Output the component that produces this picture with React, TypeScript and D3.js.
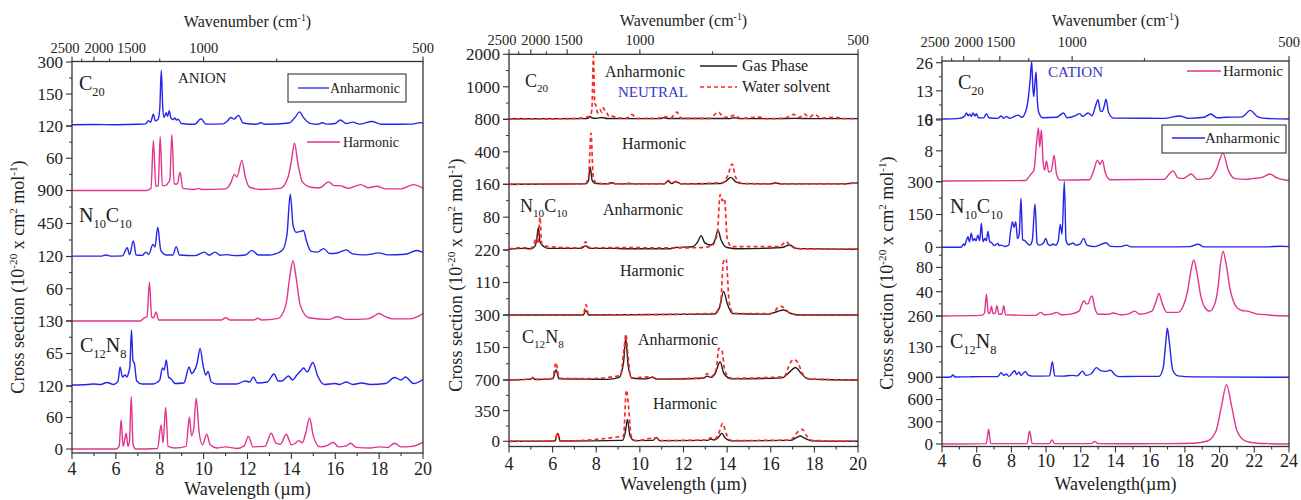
import React, { useEffect, useRef } from 'react';
import * as d3 from 'd3';

type Pt = [number, number];

const FONT = '"Liberation Serif", "Times New Roman", serif';
const BLUE = '#2424ec';
const PINK = '#e2348d';
const GAS = '#1e1e1e';
const WATER = '#ff2626';

// top axis (wavenumber, cm-1)
const wavenumbers = [2500, 2000, 1500, 1000, 500];
const wavenumbersMinor = [2250, 1750, 1250, 750];
// crowded labels at the short-wavelength end are pushed apart a little
const topLabelNudge = [-7, 5, 1, 0, 0];

// ---------------- ANION ----------------
const anionC20Anh: Pt[] = [[4,6],[5,7],[6,6],[7,8],[7.35,10],[7.48,25],[7.58,18],[7.71,55],[7.8,24],[7.92,30],[8.0,80],[8.07,262],[8.14,80],[8.2,40],[8.29,62],[8.36,45],[8.43,72],[8.52,35],[8.62,30],[8.68,38],[8.76,28],[8.84,32],[8.98,12],[9.6,8],[9.88,34],[10.1,9],[10.9,10],[11.1,25],[11.24,40],[11.38,32],[11.59,50],[11.8,14],[12.4,8],[12.6,15],[12.8,8],[13.9,14],[14.2,45],[14.37,66],[14.55,40],[14.85,12],[15.2,8],[15.4,15],[15.6,9],[16.0,12],[16.23,28],[16.5,12],[16.8,18],[17.1,9],[17.67,21],[18.1,8],[18.5,8],[19.5,9],[19.88,16],[20,13]];
const anionC20Harm: Pt[] = [[4,0],[7.4,0],[7.6,4],[7.71,93],[7.82,8],[7.93,10],[8.02,100],[8.12,9],[8.3,10],[8.38,14],[8.46,20],[8.55,104],[8.66,12],[8.8,12],[8.93,34],[9.05,4],[9.6,2],[9.77,4],[9.9,2],[11.0,3],[11.25,15],[11.4,30],[11.52,25],[11.74,56],[11.9,25],[12.1,6],[12.6,2],[13.5,4],[13.85,25],[14.0,55],[14.14,88],[14.3,50],[14.5,16],[14.9,6],[15.3,5],[15.7,16],[15.95,9],[16.2,9],[16.6,4],[17.17,11],[17.5,5],[17.9,8],[18.3,3],[19.0,3],[19.57,11],[20,4]];
const anionN10C10Anh: Pt[] = [[4,5],[5.3,5],[5.55,20],[5.8,5],[6.3,8],[6.52,120],[6.62,25],[6.8,213],[6.92,20],[7.2,15],[7.37,60],[7.5,30],[7.69,165],[7.78,130],[7.91,400],[8.05,80],[8.3,20],[8.6,20],[8.75,135],[8.9,20],[9.6,12],[10.04,60],[10.25,18],[10.53,60],[10.75,18],[11.06,25],[11.4,12],[11.9,20],[12.2,84],[12.5,20],[13.0,20],[13.2,28],[13.6,90],[13.8,300],[13.95,850],[14.08,420],[14.22,330],[14.4,340],[14.55,355],[14.7,200],[14.9,70],[15.2,60],[15.47,108],[15.75,40],[16.1,48],[16.5,90],[16.8,35],[17.3,22],[17.6,30],[17.98,50],[18.4,22],[19.2,30],[19.72,82],[20,55]];
const anionN10C10Harm: Pt[] = [[4,0],[7.1,0],[7.3,6],[7.42,8],[7.53,72],[7.63,8],[7.72,6],[7.83,17],[7.95,2],[10.8,2],[11.0,6],[11.2,2],[12.3,2],[12.46,5],[12.65,2],[13.4,5],[13.75,30],[13.92,80],[14.07,112],[14.22,80],[14.4,30],[14.8,6],[15.7,3],[16.1,8],[16.5,3],[17.5,4],[17.8,10],[18.0,14],[18.2,10],[18.6,4],[19.4,4],[19.8,9],[20,14]];
const anionC12N8Anh: Pt[] = [[4,2],[4.7,3],[5.0,4],[5.3,3],[5.6,7],[5.9,3],[6.1,10],[6.19,38],[6.3,18],[6.42,22],[6.5,18],[6.57,25],[6.64,40],[6.71,112],[6.78,50],[6.84,46],[6.95,10],[7.2,4],[7.7,4],[7.9,8],[8.0,12],[8.12,36],[8.2,32],[8.3,52],[8.4,18],[8.52,14],[8.7,5],[9.1,6],[9.34,38],[9.45,25],[9.54,28],[9.7,45],[9.84,75],[9.98,40],[10.1,22],[10.2,29],[10.35,8],[10.6,4],[11.5,4],[11.9,10],[12.1,8],[12.27,18],[12.45,6],[12.9,8],[13.21,24],[13.4,10],[13.56,10],[13.87,20],[14.05,12],[14.25,22],[14.4,29],[14.56,36],[14.72,28],[14.98,47],[15.2,20],[15.5,3],[16.0,5],[16.2,3],[16.5,8],[16.8,3],[17.2,6],[17.6,3],[18.3,5],[18.7,17],[19.0,12],[19.2,18],[19.57,5],[20,13]];
const anionC12N8Harm: Pt[] = [[4,0],[6.0,0],[6.15,5],[6.24,56],[6.33,5],[6.47,30],[6.55,5],[6.62,15],[6.7,100],[6.78,10],[6.9,0],[7.9,1],[8.06,46],[8.15,12],[8.27,79],[8.38,5],[8.7,2],[9.2,5],[9.35,61],[9.45,25],[9.55,40],[9.66,97],[9.8,30],[9.95,8],[10.14,28],[10.3,8],[10.6,2],[11.0,4],[11.5,1],[11.85,6],[12.04,24],[12.25,4],[12.8,5],[13.08,30],[13.3,11],[13.5,9],[13.77,28],[14.0,8],[14.15,10],[14.33,16],[14.5,12],[14.65,30],[14.83,59],[15.0,25],[15.3,4],[15.7,8],[15.9,13],[16.15,4],[16.5,6],[16.7,11],[16.95,3],[17.6,2],[18.0,4],[18.4,3],[18.7,11],[19.0,4],[19.5,5],[20,13]];

// ---------------- NEUTRAL (gas / water) ----------------
const neutC20AnhGas: Pt[] = [[4,15],[7.5,20],[7.64,40],[7.72,90],[7.8,40],[8.0,30],[8.26,55],[8.5,25],[9.5,20],[10.95,20],[11.1,50],[11.3,20],[11.6,25],[13.6,25],[14.1,20],[14.3,50],[14.6,20],[16.2,20],[17.1,30],[18,20],[20,20]];
const neutC20AnhWater: Pt[] = [[4,10],[6.8,20],[7.3,40],[7.55,70],[7.72,100],[7.8,300],[7.87,1950],[7.93,500],[7.98,430],[8.06,200],[8.17,300],[8.25,220],[8.33,350],[8.41,240],[8.48,200],[8.6,80],[8.71,100],[9.0,40],[9.4,40],[9.63,150],[9.85,30],[10.8,30],[11.16,80],[11.4,30],[11.69,220],[11.9,30],[13.2,30],[13.6,220],[13.85,60],[14.37,120],[14.6,30],[15.5,70],[15.8,20],[16.6,30],[17.05,150],[17.3,60],[17.55,160],[17.75,60],[18.0,150],[18.3,40],[19.0,60],[19.3,25],[20,20]];
const neutC20HarmGas: Pt[] = [[4,0],[7.5,5],[7.64,40],[7.72,210],[7.82,40],[8.0,10],[8.55,5],[8.7,20],[8.9,5],[11.1,5],[11.3,40],[11.45,10],[11.66,30],[11.9,5],[13.7,10],[13.95,40],[14.17,85],[14.4,30],[14.7,8],[16.0,5],[16.2,15],[16.5,5],[19.4,5],[19.6,10],[20,18]];
const neutC20HarmWater: Pt[] = [[4,0],[7.5,5],[7.65,100],[7.76,630],[7.86,100],[8.0,15],[8.5,5],[8.7,25],[8.9,5],[9.35,5],[9.5,15],[9.7,5],[11.1,5],[11.3,50],[11.45,15],[11.66,35],[11.9,5],[13.8,20],[14.05,120],[14.22,250],[14.4,80],[14.7,10],[16.0,5],[16.2,20],[16.5,5],[19.4,5],[19.6,10],[20,20]];
const neutN10C10AnhGas: Pt[] = [[4,2],[4.6,4],[5.0,3],[5.2,10],[5.28,30],[5.35,55],[5.42,20],[5.6,8],[5.8,4],[7.3,4],[7.51,10],[7.7,4],[8.8,4],[9.3,3],[11.4,3],[11.6,6],[12.4,8],[12.65,20],[12.81,35],[12.97,18],[13.25,12],[13.45,25],[13.58,48],[13.72,25],[14.0,6],[14.5,3],[16.5,6],[16.86,12],[17.2,4],[20,2]];
const neutN10C10AnhWater: Pt[] = [[4,2],[4.6,6],[5.0,4],[5.15,15],[5.25,30],[5.33,15],[5.42,80],[5.5,15],[5.8,8],[7.3,5],[7.51,20],[7.7,5],[8.8,6],[11.6,5],[12.8,6],[13.3,10],[13.55,40],[13.68,135],[13.78,120],[13.88,125],[14.0,30],[14.2,8],[16.4,8],[16.7,20],[16.9,10],[17.2,3],[20,2]];
const neutN10C10HarmGas: Pt[] = [[4,0],[7.4,0],[7.53,15],[7.65,0],[13.4,3],[13.65,25],[13.84,80],[14.0,40],[14.25,5],[15.9,3],[16.3,12],[16.6,17],[16.9,6],[17.3,0],[20,0]];
const neutN10C10HarmWater: Pt[] = [[4,0],[7.4,0],[7.53,35],[7.65,0],[13.4,5],[13.7,40],[13.83,180],[13.95,190],[14.1,40],[14.3,5],[16.0,5],[16.45,30],[16.65,22],[16.9,5],[17.3,0],[20,0]];
const neutC12N8AnhGas: Pt[] = [[4,0],[5.0,4],[5.1,10],[5.2,2],[6.0,5],[6.16,46],[6.3,5],[7.5,4],[8.5,3],[9.05,12],[9.25,80],[9.35,192],[9.47,60],[9.65,8],[10.3,5],[10.55,12],[10.8,4],[12.9,8],[13.08,18],[13.25,12],[13.45,30],[13.68,84],[13.85,30],[14.2,5],[16.5,10],[16.85,35],[17.13,58],[17.4,30],[17.7,5],[18.5,2],[20,0]];
const neutC12N8AnhWater: Pt[] = [[4,0],[5.0,5],[5.1,12],[5.2,3],[6.0,8],[6.16,80],[6.3,8],[7.5,6],[9.1,20],[9.28,150],[9.36,212],[9.45,120],[9.6,10],[10.55,15],[10.8,4],[12.9,10],[13.08,30],[13.25,15],[13.5,50],[13.62,146],[13.75,140],[13.9,40],[14.2,8],[16.6,15],[16.9,80],[17.05,95],[17.25,80],[17.45,30],[17.8,5],[20,0]];
const neutC12N8HarmGas: Pt[] = [[4,0],[6.1,3],[6.23,90],[6.35,3],[9.2,10],[9.33,100],[9.43,250],[9.55,60],[9.75,8],[10.6,10],[10.76,45],[10.9,8],[13.1,10],[13.25,25],[13.4,15],[13.6,45],[13.76,90],[13.92,35],[14.2,5],[16.9,10],[17.2,45],[17.35,60],[17.55,35],[17.9,5],[20,0]];
const neutC12N8HarmWater: Pt[] = [[4,0],[6.1,3],[6.23,100],[6.35,3],[9.25,60],[9.38,585],[9.48,400],[9.6,60],[9.8,8],[10.76,40],[10.9,8],[13.1,15],[13.25,40],[13.4,20],[13.6,80],[13.8,205],[13.95,90],[14.2,8],[16.9,15],[17.25,110],[17.45,137],[17.65,60],[17.9,10],[20,0]];

// ---------------- CATION ----------------
const catC20Anh: Pt[] = [[4,0],[5.0,0.3],[5.3,1.2],[5.41,2.8],[5.5,1.5],[5.6,2.2],[5.7,1.2],[5.79,2.8],[5.9,1.4],[5.98,2.4],[6.1,0.6],[6.4,0.5],[6.56,2.5],[6.7,0.6],[7.2,0.3],[7.42,1.4],[7.55,0.3],[7.71,1.2],[7.9,0.3],[8.38,1.8],[8.6,0.8],[8.8,3],[8.95,8],[9.08,18],[9.17,26.5],[9.24,14],[9.29,10.4],[9.36,17],[9.42,21.7],[9.5,8],[9.6,2.5],[9.8,0.6],[10.6,0.8],[11.01,2.8],[11.2,0.6],[11.7,1.6],[11.94,2.5],[12.1,1.2],[12.42,2.8],[12.65,1.5],[12.85,6],[12.99,8.9],[13.12,4],[13.22,3.4],[13.35,6],[13.45,9.2],[13.6,3],[13.9,0.4],[16.8,0.3],[17.7,1.4],[18.2,0.3],[19.1,0.8],[19.49,2.3],[19.85,0.6],[20.39,0.8],[21.3,1],[21.77,4],[22.2,1],[22.8,0.2],[24,0]];
const catC20Harm: Pt[] = [[4,0.2],[8.8,0.3],[9.05,1.5],[9.15,2.1],[9.3,3],[9.45,10],[9.56,14],[9.63,9],[9.73,13.4],[9.83,5],[9.92,3],[10.02,5.4],[10.15,2.5],[10.3,2.8],[10.46,6.9],[10.6,2],[10.8,0.4],[12.5,0.5],[12.75,3],[12.96,5.6],[13.1,4.5],[13.25,5.6],[13.4,2.5],[13.7,0.5],[16.8,0.6],[17.1,2],[17.31,2.8],[17.6,1],[17.9,0.8],[18.37,2],[18.7,0.6],[19.4,0.8],[19.8,3],[20.2,7.4],[20.5,3],[20.9,0.8],[21.5,0.6],[21.9,0.8],[22.5,1.2],[22.89,2],[23.3,1],[24,0.3]];
const catN10C10Anh: Pt[] = [[4,0],[5.1,0],[5.25,15],[5.31,8],[5.4,30],[5.5,48],[5.58,25],[5.69,64],[5.78,30],[5.88,40],[5.96,30],[6.07,55],[6.17,30],[6.27,110],[6.36,25],[6.46,40],[6.55,30],[6.65,72],[6.75,25],[6.85,22],[7.0,8],[7.23,18],[7.3,8],[7.42,10],[7.6,4],[7.85,10],[7.95,70],[8.06,117],[8.15,90],[8.25,117],[8.35,40],[8.45,60],[8.55,224],[8.65,35],[8.78,30],[8.9,20],[9.05,10],[9.2,30],[9.36,198],[9.48,20],[9.6,10],[9.85,20],[9.98,41],[10.1,15],[10.25,8],[10.4,15],[10.55,10],[10.7,30],[10.82,105],[10.92,60],[11.05,300],[11.15,30],[11.3,12],[11.55,20],[11.7,10],[11.95,15],[12.17,41],[12.35,10],[12.8,3],[13.47,21],[13.7,4],[14.3,3],[14.63,10],[14.9,2],[17.0,2],[18.3,3],[18.76,14],[19.1,2],[22.7,2],[23.5,5],[24,3]];
const catN10C10Harm: Pt[] = [[4,0],[6.3,1],[6.45,5],[6.56,36],[6.66,6],[6.75,4],[6.85,16],[6.94,4],[7.05,4],[7.17,17],[7.27,3],[7.45,3],[7.56,17],[7.66,2],[9.4,1],[9.69,6],[9.9,2],[10.3,3],[10.6,6],[10.9,2],[11.4,3],[11.9,8],[12.1,22],[12.19,25],[12.3,20],[12.42,20],[12.55,30],[12.65,33],[12.8,14],[13.0,3],[13.6,3],[13.86,5],[14.3,2],[14.8,4],[15.1,8],[15.4,3],[16.1,8],[16.35,25],[16.5,37],[16.68,22],[16.95,6],[17.6,6],[17.9,16],[18.15,40],[18.35,75],[18.51,92],[18.7,70],[18.9,35],[19.15,14],[19.43,8],[19.7,18],[19.9,45],[20.05,85],[20.2,106],[20.38,85],[20.6,45],[20.9,18],[21.3,9],[21.6,8],[22.2,3],[24,0]];
const catC12N8Anh: Pt[] = [[4,0],[4.5,1],[4.63,10],[4.75,1],[5.5,2],[6.2,3],[7.2,3],[7.42,20],[7.55,8],[7.7,14],[7.85,4],[8.19,28],[8.3,12],[8.45,22],[8.55,8],[8.7,18],[8.82,24],[8.95,10],[9.2,5],[10.2,6],[10.36,66],[10.5,6],[11.0,5],[11.5,8],[11.8,6],[12.09,26],[12.3,8],[12.6,15],[12.9,41],[13.15,28],[13.4,25],[13.72,30],[13.95,12],[14.2,3],[15.2,4],[16.5,4],[16.75,40],[16.9,150],[16.99,208],[17.1,150],[17.3,30],[17.6,6],[18.5,2],[24,0]];
const catC12N8Harm: Pt[] = [[4,0],[6.55,5],[6.69,200],[6.8,5],[8.9,5],[9.05,175],[9.2,5],[10.2,5],[10.34,55],[10.5,5],[12.6,5],[12.8,35],[13.0,5],[15.0,3],[16.0,5],[17.0,5],[18.5,10],[19.3,40],[19.8,180],[20.1,500],[20.4,800],[20.7,500],[21.0,180],[21.5,40],[22.2,10],[22.8,5],[24,0]];

// stacked sub-axes, bottom to top
const anionMax = [120, 130, 120, 900, 120, 300];
const anionTickLabels = [[0, 60, 120], [65, 130], [60, 120], [450, 900], [60, 120], [150, 300]];
const neutralMax = [700, 300, 220, 160, 800, 2000];
const neutralTickLabels = [[0, 350, 700], [150, 300], [110, 220], [80, 160], [400, 800], [1000, 2000]];
const cationMax = [900, 260, 113, 300, 16, 26];
const cationStep = [300, 130, 40, 150, 8, 13];
const cationTickLabels = [[0, 300, 600, 900], [130, 260], [40, 80], [0, 150, 300], [8, 16], [0, 13, 26]];

type Series = { data: Pt[]; color: string; dash?: string };
type Part = [string, 'n' | 'sub' | 'sup'];
type Note = { x: number; y: number; parts: Part[]; size: number; color?: string };

function rich(sel: any, parts: Part[], size: number) {
  let shift = 0;
  parts.forEach(([t, k]) => {
    const target = k === 'sub' ? size * 0.3 : k === 'sup' ? -size * 0.4 : 0;
    sel.append('tspan')
      .attr('dy', target - shift)
      .attr('font-size', k === 'n' ? size : size * 0.62)
      .text(t);
    shift = target;
  });
}

const C20: Part[] = [['C', 'n'], ['20', 'sub']];
const N10C10: Part[] = [['N', 'n'], ['10', 'sub'], ['C', 'n'], ['10', 'sub']];
const C12N8: Part[] = [['C', 'n'], ['12', 'sub'], ['N', 'n'], ['8', 'sub']];

const panels = [
  {
    id: 'anion', left: 72, right: 423, top: 61.5, bottom: 453, xMax: 20,
    topLabelY: 53, topTitleY: 27, botLabelY: 475, botTitleY: 495, yTitleX: 24, yTitleY: 277,
    xTitle: 'Wavelength (\u00b5m)',
    bounds: [[449, 386], [386, 321], [321, 256.5], [256.5, 190.5], [190.5, 126], [126, 62]],
    max: anionMax, step: anionMax.map((m) => m / 2), labels: anionTickLabels,
    series: [
      [{ data: anionC12N8Harm, color: PINK }], [{ data: anionC12N8Anh, color: BLUE }],
      [{ data: anionN10C10Harm, color: PINK }], [{ data: anionN10C10Anh, color: BLUE }],
      [{ data: anionC20Harm, color: PINK }], [{ data: anionC20Anh, color: BLUE }],
    ],
    notes: [
      { x: 79, y: 90, parts: C20, size: 20 },
      { x: 178, y: 83, parts: [['ANION', 'n']], size: 15 },
      { x: 79, y: 222, parts: N10C10, size: 20 },
      { x: 80, y: 352, parts: C12N8, size: 20 },
    ] as Note[],
  },
  {
    id: 'neutral', left: 509, right: 858, top: 54.3, bottom: 446.5, xMax: 20,
    topLabelY: 45, topTitleY: 26, botLabelY: 470, botTitleY: 490, yTitleX: 462, yTitleY: 275,
    xTitle: 'Wavelength (\u00b5m)',
    bounds: [[441.3, 380], [380, 315], [315, 250], [250, 184.3], [184.3, 119.3], [119.3, 54.3]],
    max: neutralMax, step: neutralMax.map((m) => m / 2), labels: neutralTickLabels,
    series: [
      [{ data: neutC12N8HarmGas, color: GAS }, { data: neutC12N8HarmWater, color: WATER, dash: '4,3' }],
      [{ data: neutC12N8AnhGas, color: GAS }, { data: neutC12N8AnhWater, color: WATER, dash: '4,3' }],
      [{ data: neutN10C10HarmGas, color: GAS }, { data: neutN10C10HarmWater, color: WATER, dash: '4,3' }],
      [{ data: neutN10C10AnhGas, color: GAS }, { data: neutN10C10AnhWater, color: WATER, dash: '4,3' }],
      [{ data: neutC20HarmGas, color: GAS }, { data: neutC20HarmWater, color: WATER, dash: '4,3' }],
      [{ data: neutC20AnhGas, color: GAS }, { data: neutC20AnhWater, color: WATER, dash: '4,3' }],
    ],
    notes: [
      { x: 525, y: 87, parts: C20, size: 18 },
      { x: 605, y: 77, parts: [['Anharmonic', 'n']], size: 16 },
      { x: 618, y: 97, parts: [['NEUTRAL', 'n']], size: 15, color: '#3535c8' },
      { x: 622, y: 149, parts: [['Harmonic', 'n']], size: 16 },
      { x: 520, y: 212, parts: N10C10, size: 18 },
      { x: 603, y: 215, parts: [['Anharmonic', 'n']], size: 16 },
      { x: 620, y: 276, parts: [['Harmonic', 'n']], size: 16 },
      { x: 522, y: 343, parts: C12N8, size: 18 },
      { x: 638, y: 345, parts: [['Anharmonic', 'n']], size: 16 },
      { x: 653, y: 409, parts: [['Harmonic', 'n']], size: 16 },
    ] as Note[],
  },
  {
    id: 'cation', left: 942, right: 1289, top: 61, bottom: 446.5, xMax: 24,
    topLabelY: 47, topTitleY: 26, botLabelY: 467, botTitleY: 490, yTitleX: 893, yTitleY: 273,
    xTitle: 'Wavelength(\u00b5m)',
    bounds: [[444, 377.3], [377.3, 316], [316, 247.3], [247.3, 181.7], [181.7, 120], [119, 62.7]],
    max: cationMax, step: cationStep, labels: cationTickLabels,
    series: [
      [{ data: catC12N8Harm, color: PINK }], [{ data: catC12N8Anh, color: BLUE }],
      [{ data: catN10C10Harm, color: PINK }], [{ data: catN10C10Anh, color: BLUE }],
      [{ data: catC20Harm, color: PINK }], [{ data: catC20Anh, color: BLUE }],
    ],
    notes: [
      { x: 958, y: 89, parts: C20, size: 20 },
      { x: 1048, y: 77, parts: [['CATION', 'n']], size: 15, color: '#3535c0' },
      { x: 950, y: 213, parts: N10C10, size: 20 },
      { x: 950, y: 348, parts: C12N8, size: 20 },
    ] as Note[],
  },
];

function drawPanel(svg: any, p: any) {
  const x = d3.scaleLinear().domain([4, p.xMax]).range([p.left, p.right]);
  // wavenumber axis always laid out as if on 4-20 um
  const xTop = d3.scaleLinear().domain([4, 20]).range([p.left, p.right]);
  const g = svg.append('g');

  svg.append('clipPath').attr('id', 'clip-' + p.id)
    .append('rect').attr('x', p.left).attr('y', p.top).attr('width', p.right - p.left).attr('height', p.bottom - p.top);

  p.bounds.forEach((b: number[], i: number) => {
    const y = d3.scaleLinear().domain([0, p.max[i]]).range([b[0], b[1]]);
    const step = p.step[i];
    const major = d3.range(0, p.max[i] + 1e-6, step);
    const minor = d3.range(step / 2, p.max[i] + 1e-6, step);
    major.forEach((v) => {
      g.append('line').attr('x1', p.left - 6).attr('x2', p.left).attr('y1', y(v)).attr('y2', y(v))
        .attr('stroke', '#333').attr('stroke-width', 1.1);
    });
    minor.forEach((v) => {
      g.append('line').attr('x1', p.left - 3).attr('x2', p.left).attr('y1', y(v)).attr('y2', y(v))
        .attr('stroke', '#333').attr('stroke-width', 1);
    });
    p.labels[i].forEach((v: number) => {
      g.append('text').attr('x', p.left - 9).attr('y', y(v)).attr('dy', '0.35em')
        .attr('text-anchor', 'end').attr('font-size', 17).attr('font-family', FONT).attr('fill', '#222')
        .text(v);
    });
    const line = d3.line<Pt>().x((d) => x(d[0])).y((d) => y(d[1])).curve(d3.curveMonotoneX);
    p.series[i].forEach((s: Series) => {
      g.append('path').attr('d', line(s.data)).attr('fill', 'none').attr('stroke', s.color)
        .attr('stroke-width', s.dash ? 1.7 : 1.4).attr('stroke-dasharray', s.dash || null)
        .attr('clip-path', `url(#clip-${p.id})`);
    });
  });

  // frame
  g.append('rect').attr('x', p.left).attr('y', p.top).attr('width', p.right - p.left).attr('height', p.bottom - p.top)
    .attr('fill', 'none').attr('stroke', '#333').attr('stroke-width', 1.3);

  // bottom axis
  d3.range(4, p.xMax + 0.001, 1).forEach((v) => {
    const big = v % 2 === 0;
    g.append('line').attr('x1', x(v)).attr('x2', x(v)).attr('y1', p.bottom).attr('y2', p.bottom + (big ? 6 : 3))
      .attr('stroke', '#333').attr('stroke-width', 1.1);
    if (big) {
      g.append('text').attr('x', x(v)).attr('y', p.botLabelY).attr('text-anchor', 'middle')
        .attr('font-size', 18).attr('font-family', FONT).attr('fill', '#222').text(v);
    }
  });
  g.append('text').attr('x', (p.left + p.right) / 2).attr('y', p.botTitleY).attr('text-anchor', 'middle')
    .attr('font-size', 18).attr('font-family', FONT).attr('fill', '#222').text(p.xTitle);

  // top axis
  wavenumbers.forEach((w, i) => {
    const px = xTop(10000 / w);
    g.append('line').attr('x1', px).attr('x2', px).attr('y1', p.top).attr('y2', p.top - 5)
      .attr('stroke', '#333').attr('stroke-width', 1.1);
    g.append('text').attr('x', px + topLabelNudge[i]).attr('y', p.topLabelY).attr('text-anchor', 'middle')
      .attr('font-size', 14.5).attr('font-family', FONT).attr('fill', '#222').text(w);
  });
  wavenumbersMinor.forEach((w) => {
    const px = xTop(10000 / w);
    g.append('line').attr('x1', px).attr('x2', px).attr('y1', p.top).attr('y2', p.top - 3)
      .attr('stroke', '#333').attr('stroke-width', 1);
  });
  const tt = g.append('text').attr('x', (p.left + p.right) / 2).attr('y', p.topTitleY).attr('text-anchor', 'middle')
    .attr('font-size', 16).attr('font-family', FONT).attr('fill', '#222');
  rich(tt, [['Wavenumber (cm', 'n'], ['-1', 'sup'], [')', 'n']], 16);

  // y title
  const yt = g.append('text').attr('transform', `translate(${p.yTitleX},${p.yTitleY}) rotate(-90)`)
    .attr('text-anchor', 'middle').attr('font-size', 18).attr('font-family', FONT).attr('fill', '#222');
  rich(yt, [['Cross section (10', 'n'], ['-20', 'sup'], [' x cm', 'n'], ['2', 'sup'], [' mol', 'n'], ['-1', 'sup'], [')', 'n']], 18);

  p.notes.forEach((n: Note) => {
    const t = g.append('text').attr('x', n.x).attr('y', n.y).attr('font-family', FONT)
      .attr('font-size', n.size).attr('fill', n.color || '#222');
    rich(t, n.parts, n.size);
  });
}

function drawLegends(svg: any) {
  const g = svg.append('g').attr('font-family', FONT).attr('fill', '#222');
  // anion
  g.append('rect').attr('x', 288).attr('y', 74).attr('width', 118).attr('height', 28)
    .attr('fill', 'white').attr('stroke', '#444').attr('stroke-width', 1.2);
  g.append('line').attr('x1', 298).attr('x2', 329).attr('y1', 88).attr('y2', 88).attr('stroke', BLUE).attr('stroke-width', 1.3);
  g.append('text').attr('x', 330).attr('y', 93).attr('font-size', 14).text('Anharmonic');
  g.append('line').attr('x1', 307).attr('x2', 340).attr('y1', 142).attr('y2', 142).attr('stroke', PINK).attr('stroke-width', 1.3);
  g.append('text').attr('x', 343).attr('y', 147).attr('font-size', 14).text('Harmonic');
  // neutral
  g.append('line').attr('x1', 700).attr('x2', 737).attr('y1', 66).attr('y2', 66).attr('stroke', GAS).attr('stroke-width', 1.4);
  g.append('text').attr('x', 742).attr('y', 71).attr('font-size', 16).text('Gas Phase');
  g.append('line').attr('x1', 700).attr('x2', 737).attr('y1', 87).attr('y2', 87).attr('stroke', WATER)
    .attr('stroke-width', 1.7).attr('stroke-dasharray', '4,3');
  g.append('text').attr('x', 742).attr('y', 92).attr('font-size', 16).text('Water solvent');
  // cation
  g.append('line').attr('x1', 1187).attr('x2', 1221).attr('y1', 71).attr('y2', 71).attr('stroke', PINK).attr('stroke-width', 1.3);
  g.append('text').attr('x', 1223).attr('y', 76).attr('font-size', 15).text('Harmonic');
  g.append('rect').attr('x', 1162).attr('y', 125).attr('width', 124).attr('height', 28)
    .attr('fill', 'white').attr('stroke', '#444').attr('stroke-width', 1.2);
  g.append('line').attr('x1', 1172).attr('x2', 1205).attr('y1', 138).attr('y2', 138).attr('stroke', BLUE).attr('stroke-width', 1.3);
  g.append('text').attr('x', 1205).attr('y', 143).attr('font-size', 15).text('Anharmonic');
}

export default function App() {
  const ref = useRef<SVGSVGElement>(null);

  useEffect(() => {
    const svg = d3.select(ref.current);
    svg.selectAll('*').remove();
    panels.forEach((p) => drawPanel(svg, p));
    drawLegends(svg);
  }, []);

  return (
    <svg
      ref={ref}
      width={1301}
      height={500}
      style={{ position: 'absolute', left: 0, top: 0, background: 'white' }}
    />
  );
}
